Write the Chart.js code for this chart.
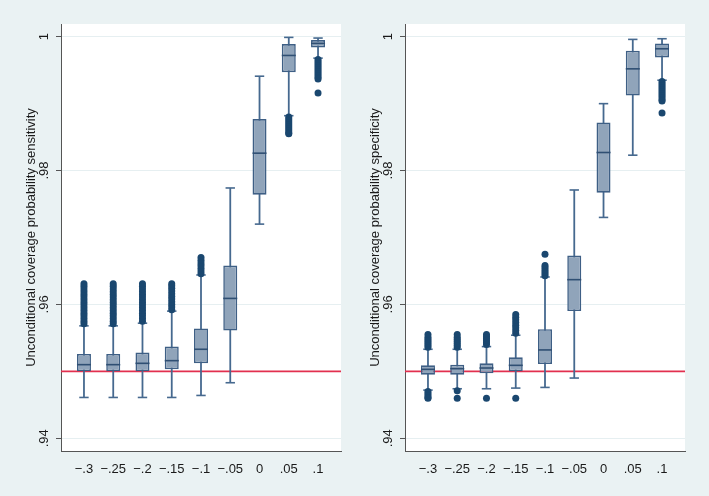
<!DOCTYPE html>
<html>
<head>
<meta charset="utf-8">
<script src="https://cdn.jsdelivr.net/npm/chart.js@4.4.1/dist/chart.umd.min.js"></script>
<style>
  body { margin: 0; background: #eaf2f3; }
  #left { position: absolute; left: 0; top: 0; }
  #right { position: absolute; left: 355px; top: 0; }
</style>
</head>
<body>
<canvas id="left" width="355" height="496"></canvas>
<canvas id="right" width="354" height="496"></canvas>
<script>
// categories (delta) and their tick labels
var deltas = [-0.3, -0.25, -0.2, -0.15, -0.1, -0.05, 0, 0.05, 0.1]
var deltaLabels = ["\u2212.3", "\u2212.25", "\u2212.2", "\u2212.15", "\u2212.1", "\u2212.05", "0", ".05", ".1"]
var yTicks = [0.94, 0.96, 0.98, 1]
var yTickLabels = [".94", ".96", ".98", "1"]
var refLine = 0.95

// sensitivity
var sensLowWhisker = [0.9461, 0.9461, 0.9461, 0.9461, 0.9464, 0.9483, 0.9720, 0.9882, 0.9968]
var sensQ1 = [0.9500, 0.9500, 0.9500, 0.9503, 0.9512, 0.9561, 0.9764, 0.9947, 0.9984]
var sensMedian = [0.9510, 0.9510, 0.9512, 0.9516, 0.9533, 0.9609, 0.9826, 0.9972, 0.9990]
var sensQ3 = [0.9526, 0.9526, 0.9528, 0.9537, 0.9564, 0.9658, 0.9877, 0.9989, 0.9995]
var sensHighWhisker = [0.9568, 0.9568, 0.9572, 0.9590, 0.9644, 0.9774, 0.9941, 0.9999, 0.9998]
var sensOutliers = [
    [0.9571, 0.9575, 0.9579, 0.9583, 0.9587, 0.9591, 0.9595, 0.9599, 0.9603, 0.9607, 0.9611, 0.9615, 0.9619, 0.9623, 0.9627, 0.9631],
    [0.9571, 0.9575, 0.9579, 0.9583, 0.9587, 0.9591, 0.9595, 0.9599, 0.9603, 0.9607, 0.9611, 0.9615, 0.9619, 0.9623, 0.9627, 0.9631],
    [0.9575, 0.9579, 0.9583, 0.9587, 0.9591, 0.9595, 0.9599, 0.9603, 0.9607, 0.9611, 0.9615, 0.9619, 0.9623, 0.9627, 0.9631],
    [0.9592, 0.9596, 0.9600, 0.9604, 0.9608, 0.9612, 0.9616, 0.9620, 0.9624, 0.9628, 0.9631],
    [0.9646, 0.9650, 0.9654, 0.9658, 0.9662, 0.9666, 0.9670],
    [],
    [],
    [0.9880, 0.9877, 0.9874, 0.9871, 0.9868, 0.9865, 0.9862, 0.9859, 0.9856, 0.9855],
    [0.9966, 0.9963, 0.9960, 0.9957, 0.9954, 0.9951, 0.9948, 0.9945, 0.9942, 0.9939, 0.9937, 0.9916]
]

// specificity
var specLowWhisker = [0.9472, 0.9474, 0.9474, 0.9475, 0.9476, 0.9490, 0.9730, 0.9823, 0.9935]
var specQ1 = [0.9495, 0.9495, 0.9497, 0.9500, 0.9511, 0.9590, 0.9767, 0.9912, 0.9969]
var specMedian = [0.9503, 0.9504, 0.9505, 0.9509, 0.9532, 0.9637, 0.9827, 0.9952, 0.9982]
var specQ3 = [0.9509, 0.9510, 0.9512, 0.9521, 0.9563, 0.9673, 0.9872, 0.9979, 0.9990]
var specHighWhisker = [0.9533, 0.9533, 0.9537, 0.9554, 0.9641, 0.9771, 0.9900, 0.9996, 0.9997]
var specOutliers = [
    [0.9536, 0.9539, 0.9542, 0.9545, 0.9548, 0.9551, 0.9555, 0.9470, 0.9467, 0.9464, 0.9461, 0.9460],
    [0.9536, 0.9539, 0.9542, 0.9545, 0.9548, 0.9551, 0.9555, 0.9471, 0.9460],
    [0.9540, 0.9543, 0.9546, 0.9549, 0.9552, 0.9555, 0.9460],
    [0.9557, 0.9561, 0.9565, 0.9569, 0.9573, 0.9577, 0.9581, 0.9585, 0.9460],
    [0.9643, 0.9646, 0.9649, 0.9652, 0.9655, 0.9658, 0.9675],
    [],
    [],
    [],
    [0.9933, 0.9930, 0.9927, 0.9924, 0.9921, 0.9918, 0.9915, 0.9912, 0.9909, 0.9906, 0.9904, 0.9886]
]

var xMin = -0.33925
var xMax = 0.13925
var yMin = 0.9381
var yMax = 1.0019

var FONT = "'Liberation Sans', Arial, sans-serif"

var plotBackground = {
    id: 'plotBackground',
    beforeDraw: function (chart) {
        var a = chart.chartArea
        chart.ctx.save()
        chart.ctx.fillStyle = '#ffffff'
        chart.ctx.fillRect(a.left, a.top, a.right - a.left, a.bottom - a.top)
        chart.ctx.restore()
    }
}

function makeBoxChart(canvasId, title, lw, q1, med, q3, hw, outliers, padLeft, padRight) {
    var whiskers = deltas.map((x, i) => ({x: x, y: [lw[i], hw[i]]}))
    var boxes = deltas.map((x, i) => ({x: x, y: [q1[i], q3[i]]}))
    var medians = deltas.map((x, i) => ({x: x, y: med[i]}))
    var caps = []
    deltas.forEach((x, i) => {
        caps.push({x: x, y: lw[i]})
        caps.push({x: x, y: hw[i]})
    })
    var dots = []
    outliers.forEach((list, i) => {
        list.forEach(v => dots.push({x: deltas[i], y: v}))
    })

    return new Chart(document.getElementById(canvasId), {
        type: 'bar',
        data: {
            datasets: [
                {
                    type: 'scatter',
                    data: dots,
                    pointRadius: 3.5,
                    pointBackgroundColor: '#1a476f',
                    pointBorderWidth: 0
                },
                {
                    type: 'scatter',
                    data: medians,
                    pointStyle: 'line',
                    pointRadius: 7,
                    pointBorderColor: '#2f4f73',
                    pointBorderWidth: 1.6
                },
                {
                    type: 'scatter',
                    data: caps,
                    pointStyle: 'line',
                    pointRadius: 4.7,
                    pointBorderColor: '#46698f',
                    pointBorderWidth: 1.6
                },
                {
                    data: boxes,
                    grouped: false,
                    maxBarThickness: 14,
                    backgroundColor: '#90a4ba',
                    borderColor: '#3e5f85',
                    borderWidth: 1.6,
                    borderSkipped: false
                },
                {
                    data: whiskers,
                    grouped: false,
                    maxBarThickness: 1.8,
                    backgroundColor: '#46698f',
                    borderWidth: 0
                },
                {
                    type: 'line',
                    data: [{x: xMin, y: refLine}, {x: xMax, y: refLine}],
                    borderColor: '#e2304f',
                    borderWidth: 1.6,
                    pointRadius: 0
                }
            ]
        },
        options: {
            responsive: false,
            animation: false,
            devicePixelRatio: 1,
            events: [],
            layout: {padding: {left: padLeft, right: padRight, top: 24, bottom: 15}},
            scales: {
                x: {
                    type: 'linear',
                    min: xMin,
                    max: xMax,
                    bounds: 'data',
                    offset: false,
                    grid: {display: false},
                    border: {display: true, color: '#555555', width: 1},
                    afterFit: function (scale) { scale.height = 30 },
                    afterBuildTicks: function (scale) {
                        scale.ticks = deltas.map(v => ({value: v}))
                    },
                    ticks: {
                        autoSkip: false,
                        maxRotation: 0,
                        padding: 3,
                        color: '#1a1a1a',
                        font: {family: FONT, size: 13},
                        callback: function (value, index) { return deltaLabels[index] }
                    }
                },
                y: {
                    type: 'linear',
                    min: yMin,
                    max: yMax,
                    bounds: 'data',
                    beginAtZero: false,
                    grid: {color: '#e6eff1', lineWidth: 1, tickColor: '#555555', tickLength: 5},
                    border: {display: true, color: '#555555', width: 1},
                    afterFit: function (scale) { scale.width = 50 },
                    afterBuildTicks: function (scale) {
                        scale.ticks = yTicks.map(v => ({value: v}))
                    },
                    ticks: {
                        minRotation: 90,
                        maxRotation: 90,
                        crossAlign: 'center',
                        padding: 2.5,
                        color: '#1a1a1a',
                        font: {family: FONT, size: 13},
                        callback: function (value, index) { return yTickLabels[index] }
                    },
                    title: {
                        display: true,
                        text: title,
                        color: '#1a1a1a',
                        padding: {top: 13, bottom: 0},
                        font: {family: FONT, size: 13}
                    }
                }
            },
            plugins: {
                legend: {display: false},
                tooltip: {enabled: false}
            }
        },
        plugins: [plotBackground]
    })
}

makeBoxChart('left', 'Unconditional coverage probability sensitivity',
    sensLowWhisker, sensQ1, sensMedian, sensQ3, sensHighWhisker, sensOutliers, 11, 14)
makeBoxChart('right', 'Unconditional coverage probability specificity',
    specLowWhisker, specQ1, specMedian, specQ3, specHighWhisker, specOutliers, 0, 24)
</script>
</body>
</html>
